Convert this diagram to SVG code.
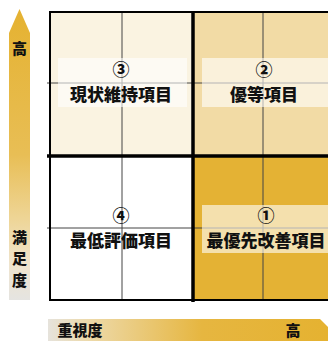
<svg xmlns="http://www.w3.org/2000/svg" width="328" height="341" viewBox="0 0 328 341">
<defs>
<linearGradient id="gv" x1="0" y1="0" x2="0" y2="1" gradientUnits="objectBoundingBox">
<stop offset="0" stop-color="#E5B231"/>
<stop offset="0.5" stop-color="#E8BE55"/>
<stop offset="0.72" stop-color="#EED596"/>
<stop offset="0.88" stop-color="#EFE4CE"/>
<stop offset="1" stop-color="#E5E4E1"/>
</linearGradient>
<linearGradient id="gh" x1="0" y1="0" x2="1" y2="0" gradientUnits="objectBoundingBox">
<stop offset="0" stop-color="#E6E3DC"/>
<stop offset="0.15" stop-color="#EDD9A8"/>
<stop offset="0.55" stop-color="#E6B640"/>
<stop offset="1" stop-color="#E5B231"/>
</linearGradient>
<style>
.t{font-family:"Noto Sans CJK JP","Noto Sans",sans-serif;font-weight:900;fill:#111;text-anchor:middle;}
.lab{font-size:17px;}
.num{font-size:17px;}
.ax{font-size:15px;}
.box{fill:#fff;fill-opacity:0.6;}
.thin{stroke:#444;stroke-width:1;fill:none;}
.thick{stroke:#000;fill:none;}
</style>
</defs>
<rect width="328" height="341" fill="#fff"/>
<g id="axis-y">
<polygon points="9,33 19.5,9 30,33 30,300 9,300" fill="url(#gv)"/>
<text class="t ax" x="19.5" y="54">高</text>
<text class="t ax" x="19.5" y="243">満</text>
<text class="t ax" x="19.5" y="264">足</text>
<text class="t ax" x="19.5" y="286">度</text>
</g>
<g id="axis-x">
<polygon points="48,319 320,319 328,327 328,341 48,341" fill="url(#gh)"/>
<text class="t ax" x="80" y="336">重視度</text>
<text class="t ax" x="293" y="336">高</text>
</g>
<g id="q3">
<rect x="50" y="12" width="143" height="144" fill="#FAF3E1"/>
</g>
<g id="q2">
<rect x="193" y="12" width="135" height="144" fill="#F2DBA5"/>
</g>
<g id="q4">
<rect x="50" y="156" width="143" height="144" fill="#FFFFFF"/>
</g>
<g id="q1">
<rect x="193" y="156" width="135" height="144" fill="#E4B234"/>
</g>
<g id="connectors">
<line class="thin" x1="122" y1="12" x2="122" y2="300" stroke="#333"/>
<line class="thin" x1="263" y1="12" x2="263" y2="300" stroke="#111"/>
<line class="thin" x1="47" y1="83" x2="328" y2="83"/>
<line class="thin" x1="47" y1="228" x2="328" y2="228"/>
<line class="thick" x1="50" y1="12" x2="328" y2="12" stroke-width="2"/>
<line class="thick" x1="50" y1="11" x2="50" y2="301" stroke-width="2"/>
<line class="thick" x1="49" y1="300" x2="328" y2="300" stroke-width="2"/>
<line class="thick" x1="193" y1="11" x2="193" y2="302" stroke-width="3.5"/>
<line class="thick" x1="47" y1="156" x2="328" y2="156" stroke-width="3.5"/>
</g>
<g id="label3">
<rect class="box" x="58" y="58" width="129" height="49"/>
<text class="t num" x="121" y="76">③</text>
<text class="t lab" x="121" y="101">現状維持項目</text>
</g>
<g id="label2">
<rect class="box" x="202" y="58" width="126" height="49"/>
<text class="t num" x="264" y="76">②</text>
<text class="t lab" x="264" y="101">優等項目</text>
</g>
<g id="label4">
<text class="t num" x="121" y="222">④</text>
<text class="t lab" x="121" y="247">最低評価項目</text>
</g>
<g id="label1">
<rect class="box" x="202" y="205" width="126" height="48"/>
<text class="t num" x="266" y="222">①</text>
<text class="t lab" x="266" y="247">最優先改善項目</text>
</g>
</svg>
